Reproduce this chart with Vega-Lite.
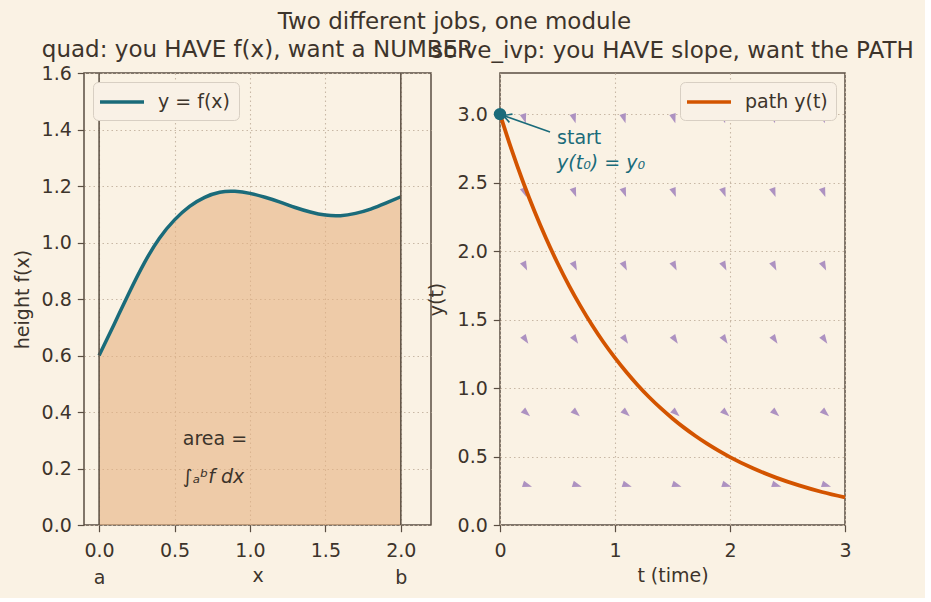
{
  "$schema": "https://vega.github.io/schema/vega-lite/v6.json",
  "background": "#FAF2E4",
  "padding": {"left": 12, "top": 11, "right": 10, "bottom": 10},
  "title": {
    "text": "Two different jobs, one module",
    "fontSize": 23,
    "anchor": "middle",
    "offset": 4,
    "dx": -9
  },
  "datasets": {
    "fx": [
      {"x": 0.0, "f": 0.600},
      {"x": 0.1, "f": 0.711},
      {"x": 0.2, "f": 0.823},
      {"x": 0.3, "f": 0.928},
      {"x": 0.4, "f": 1.015},
      {"x": 0.5, "f": 1.080},
      {"x": 0.6, "f": 1.128},
      {"x": 0.7, "f": 1.160},
      {"x": 0.8, "f": 1.178},
      {"x": 0.9, "f": 1.181},
      {"x": 1.0, "f": 1.174},
      {"x": 1.1, "f": 1.160},
      {"x": 1.2, "f": 1.143},
      {"x": 1.3, "f": 1.124},
      {"x": 1.4, "f": 1.108},
      {"x": 1.5, "f": 1.097},
      {"x": 1.6, "f": 1.095},
      {"x": 1.7, "f": 1.103},
      {"x": 1.8, "f": 1.118},
      {"x": 1.9, "f": 1.139},
      {"x": 2.0, "f": 1.162}
    ],
    "limits": [
      {"x": 0, "name": "a"},
      {"x": 2, "name": "b"}
    ],
    "areaNote": [
      {"x": 0.555, "f": 0.283, "label": "area =", "style": "normal"},
      {"x": 0.555, "f": 0.149, "label": "∫ₐᵇf dx", "style": "italic"}
    ],
    "path": [
      {"t": 0.0, "y": 3.000},
      {"t": 0.1, "y": 2.742},
      {"t": 0.2, "y": 2.506},
      {"t": 0.3, "y": 2.290},
      {"t": 0.4, "y": 2.093},
      {"t": 0.5, "y": 1.913},
      {"t": 0.6, "y": 1.748},
      {"t": 0.7, "y": 1.598},
      {"t": 0.8, "y": 1.460},
      {"t": 0.9, "y": 1.334},
      {"t": 1.0, "y": 1.220},
      {"t": 1.1, "y": 1.115},
      {"t": 1.2, "y": 1.019},
      {"t": 1.3, "y": 0.931},
      {"t": 1.4, "y": 0.851},
      {"t": 1.5, "y": 0.778},
      {"t": 1.6, "y": 0.711},
      {"t": 1.7, "y": 0.650},
      {"t": 1.8, "y": 0.594},
      {"t": 1.9, "y": 0.543},
      {"t": 2.0, "y": 0.496},
      {"t": 2.2, "y": 0.414},
      {"t": 2.4, "y": 0.346},
      {"t": 2.6, "y": 0.289},
      {"t": 2.8, "y": 0.241},
      {"t": 3.0, "y": 0.201}
    ],
    "slopes": [
      {"t": 0.2, "y": 0.3, "slope": -0.27, "dir": 17.8},
      {"t": 0.633, "y": 0.3, "slope": -0.27, "dir": 17.8},
      {"t": 1.067, "y": 0.3, "slope": -0.27, "dir": 17.8},
      {"t": 1.5, "y": 0.3, "slope": -0.27, "dir": 17.8},
      {"t": 1.933, "y": 0.3, "slope": -0.27, "dir": 17.8},
      {"t": 2.367, "y": 0.3, "slope": -0.27, "dir": 17.8},
      {"t": 2.8, "y": 0.3, "slope": -0.27, "dir": 17.8},
      {"t": 0.2, "y": 0.84, "slope": -0.756, "dir": 42.0},
      {"t": 0.633, "y": 0.84, "slope": -0.756, "dir": 42.0},
      {"t": 1.067, "y": 0.84, "slope": -0.756, "dir": 42.0},
      {"t": 1.5, "y": 0.84, "slope": -0.756, "dir": 42.0},
      {"t": 1.933, "y": 0.84, "slope": -0.756, "dir": 42.0},
      {"t": 2.367, "y": 0.84, "slope": -0.756, "dir": 42.0},
      {"t": 2.8, "y": 0.84, "slope": -0.756, "dir": 42.0},
      {"t": 0.2, "y": 1.38, "slope": -1.242, "dir": 55.9},
      {"t": 0.633, "y": 1.38, "slope": -1.242, "dir": 55.9},
      {"t": 1.067, "y": 1.38, "slope": -1.242, "dir": 55.9},
      {"t": 1.5, "y": 1.38, "slope": -1.242, "dir": 55.9},
      {"t": 1.933, "y": 1.38, "slope": -1.242, "dir": 55.9},
      {"t": 2.367, "y": 1.38, "slope": -1.242, "dir": 55.9},
      {"t": 2.8, "y": 1.38, "slope": -1.242, "dir": 55.9},
      {"t": 0.2, "y": 1.92, "slope": -1.728, "dir": 64.1},
      {"t": 0.633, "y": 1.92, "slope": -1.728, "dir": 64.1},
      {"t": 1.067, "y": 1.92, "slope": -1.728, "dir": 64.1},
      {"t": 1.5, "y": 1.92, "slope": -1.728, "dir": 64.1},
      {"t": 1.933, "y": 1.92, "slope": -1.728, "dir": 64.1},
      {"t": 2.367, "y": 1.92, "slope": -1.728, "dir": 64.1},
      {"t": 2.8, "y": 1.92, "slope": -1.728, "dir": 64.1},
      {"t": 0.2, "y": 2.46, "slope": -2.214, "dir": 69.2},
      {"t": 0.633, "y": 2.46, "slope": -2.214, "dir": 69.2},
      {"t": 1.067, "y": 2.46, "slope": -2.214, "dir": 69.2},
      {"t": 1.5, "y": 2.46, "slope": -2.214, "dir": 69.2},
      {"t": 1.933, "y": 2.46, "slope": -2.214, "dir": 69.2},
      {"t": 2.367, "y": 2.46, "slope": -2.214, "dir": 69.2},
      {"t": 2.8, "y": 2.46, "slope": -2.214, "dir": 69.2},
      {"t": 0.2, "y": 3.0, "slope": -2.7, "dir": 72.7},
      {"t": 0.633, "y": 3.0, "slope": -2.7, "dir": 72.7},
      {"t": 1.067, "y": 3.0, "slope": -2.7, "dir": 72.7},
      {"t": 1.5, "y": 3.0, "slope": -2.7, "dir": 72.7},
      {"t": 1.933, "y": 3.0, "slope": -2.7, "dir": 72.7},
      {"t": 2.367, "y": 3.0, "slope": -2.7, "dir": 72.7},
      {"t": 2.8, "y": 3.0, "slope": -2.7, "dir": 72.7}
    ],
    "start": [
      {"t": 0, "y": 3}
    ],
    "pointer": [
      {"t": 0.435, "y": 2.869, "t2": 0.03, "y2": 2.99, "dir": 20.6}
    ],
    "startNote": [
      {"t": 0.496, "y": 2.781, "label": "start", "style": "normal"},
      {"t": 0.496, "y": 2.599, "label": "y(t₀) = y₀", "style": "italic"}
    ]
  },
  "spacing": 69,
  "bounds": "flush",
  "hconcat": [
    {
      "width": 347,
      "height": 452,
      "title": {"text": "quad: you HAVE f(x), want a NUMBER", "offset": 2},
      "resolve": {"axis": {"x": "independent"}},
      "layer": [
        {
          "data": {"name": "fx"},
          "mark": {"type": "area", "color": "#E6B180", "opacity": 0.6, "interpolate": "natural"},
          "encoding": {
            "x": {
              "field": "x", "type": "quantitative",
              "scale": {"domain": [-0.1, 2.2], "nice": false, "zero": false},
              "axis": {"values": [0, 0.5, 1, 1.5, 2], "format": ".1f", "title": "x"}
            },
            "y": {
              "field": "f", "type": "quantitative",
              "scale": {"domain": [0, 1.6], "nice": false},
              "axis": {"values": [0, 0.2, 0.4, 0.6, 0.8, 1.0, 1.2, 1.4, 1.6], "format": ".1f", "title": "height f(x)"}
            }
          }
        },
        {
          "data": {"name": "fx"},
          "mark": {"type": "line", "strokeWidth": 3.5, "interpolate": "natural"},
          "encoding": {
            "x": {"field": "x", "type": "quantitative", "axis": null},
            "y": {"field": "f", "type": "quantitative"},
            "stroke": {
              "datum": "y = f(x)", "type": "nominal",
              "scale": {"domain": ["y = f(x)"], "range": ["#1A6B7A"]},
              "legend": {"orient": "top-left", "title": null}
            }
          }
        },
        {
          "data": {"name": "limits"},
          "mark": {"type": "rule", "color": "#5a4e42", "strokeWidth": 1.5},
          "encoding": {
            "x": {
              "field": "x", "type": "quantitative",
              "axis": {
                "orient": "bottom", "values": [0, 2],
                "labelExpr": "datum.value == 0 ? 'a' : 'b'",
                "ticks": false, "grid": false, "title": null,
                "labelPadding": 43
              }
            }
          }
        },
        {
          "data": {"name": "areaNote"},
          "transform": [{"filter": "datum.style == 'normal'"}],
          "mark": {"type": "text", "align": "left", "baseline": "alphabetic", "fontSize": 19, "color": "#3d342b"},
          "encoding": {
            "x": {"field": "x", "type": "quantitative", "axis": null},
            "y": {"field": "f", "type": "quantitative"},
            "text": {"field": "label"}
          }
        },
        {
          "data": {"name": "areaNote"},
          "transform": [{"filter": "datum.style == 'italic'"}],
          "mark": {"type": "text", "align": "left", "baseline": "alphabetic", "fontSize": 19, "fontStyle": "italic", "color": "#3d342b"},
          "encoding": {
            "x": {"field": "x", "type": "quantitative", "axis": null},
            "y": {"field": "f", "type": "quantitative"},
            "text": {"field": "label"}
          }
        }
      ]
    },
    {
      "width": 345,
      "height": 452,
      "title": {"text": "solve_ivp: you HAVE slope, want the PATH", "offset": 10},
      "layer": [
        {
          "data": {"name": "slopes"},
          "mark": {"type": "point", "shape": "M0,-0.7L2,0L0,0.7Z", "filled": true, "color": "#A98CBF", "size": 90, "opacity": 0.95},
          "encoding": {
            "x": {
              "field": "t", "type": "quantitative",
              "scale": {"domain": [0, 3], "nice": false},
              "axis": {"values": [0, 1, 2, 3], "format": "d", "title": "t (time)"}
            },
            "y": {
              "field": "y", "type": "quantitative",
              "scale": {"domain": [0, 3.3], "nice": false},
              "axis": {"values": [0, 0.5, 1, 1.5, 2, 2.5, 3], "format": ".1f", "title": "y(t)", "titlePadding": 11}
            },
            "angle": {"field": "dir", "type": "quantitative", "scale": null}
          }
        },
        {
          "data": {"name": "path"},
          "mark": {"type": "line", "strokeWidth": 3.8, "interpolate": "monotone"},
          "encoding": {
            "x": {"field": "t", "type": "quantitative"},
            "y": {"field": "y", "type": "quantitative"},
            "stroke": {
              "datum": "path y(t)", "type": "nominal",
              "scale": {"domain": ["path y(t)"], "range": ["#D35400"]},
              "legend": {"orient": "top-right", "title": null}
            }
          }
        },
        {
          "data": {"name": "pointer"},
          "mark": {"type": "rule", "color": "#1A6B7A", "strokeWidth": 1.6},
          "encoding": {
            "x": {"field": "t", "type": "quantitative"},
            "y": {"field": "y", "type": "quantitative"},
            "x2": {"field": "t2"},
            "y2": {"field": "y2"}
          }
        },
        {
          "data": {"name": "start"},
          "mark": {"type": "point", "shape": "circle", "filled": true, "color": "#1A6B7A", "size": 154, "opacity": 1, "clip": false},
          "encoding": {
            "x": {"field": "t", "type": "quantitative"},
            "y": {"field": "y", "type": "quantitative"}
          }
        },
        {
          "data": {"name": "pointer"},
          "mark": {"type": "point", "shape": "M2,-1.1L0,0L2,1.1", "filled": false, "color": "#1A6B7A", "strokeWidth": 1.6, "size": 64, "opacity": 1},
          "encoding": {
            "x": {"field": "t2", "type": "quantitative"},
            "y": {"field": "y2", "type": "quantitative"},
            "angle": {"field": "dir", "type": "quantitative", "scale": null}
          }
        },
        {
          "data": {"name": "startNote"},
          "transform": [{"filter": "datum.style == 'normal'"}],
          "mark": {"type": "text", "align": "left", "baseline": "alphabetic", "fontSize": 19, "color": "#1A6B7A"},
          "encoding": {
            "x": {"field": "t", "type": "quantitative"},
            "y": {"field": "y", "type": "quantitative"},
            "text": {"field": "label"}
          }
        },
        {
          "data": {"name": "startNote"},
          "transform": [{"filter": "datum.style == 'italic'"}],
          "mark": {"type": "text", "align": "left", "baseline": "alphabetic", "fontSize": 19, "fontStyle": "italic", "color": "#1A6B7A"},
          "encoding": {
            "x": {"field": "t", "type": "quantitative"},
            "y": {"field": "y", "type": "quantitative"},
            "text": {"field": "label"}
          }
        }
      ]
    }
  ],
  "resolve": {
    "scale": {"stroke": "independent"},
    "legend": {"stroke": "independent"}
  },
  "config": {
    "font": "DejaVu Sans",
    "view": {"stroke": "#5a4e42", "strokeWidth": 1.5},
    "axis": {
      "domain": false,
      "tickColor": "#5a4e42",
      "tickSize": 6.7,
      "tickWidth": 1.2,
      "labelFontSize": 19,
      "labelColor": "#3d342b",
      "labelPadding": 6,
      "labelFlush": false,
      "labelOverlap": false,
      "titleFontSize": 19,
      "titleFontWeight": "normal",
      "titleColor": "#3d342b",
      "gridColor": "#c8b8a5",
      "gridDash": [1.5, 3],
      "gridWidth": 1.1
    },
    "axisY": {"titlePadding": 9},
    "axisX": {"titlePadding": 6, "labelPadding": 10},
    "title": {
      "fontSize": 23,
      "fontWeight": "normal",
      "color": "#3d342b",
      "baseline": "alphabetic",
      "offset": 8
    },
    "legend": {
      "offset": 9,
      "padding": 8,
      "fillColor": "#F9F1E6",
      "strokeColor": "#d8cfc3",
      "cornerRadius": 5,
      "labelFontSize": 19,
      "labelColor": "#3d342b",
      "symbolType": "M-1.3,0L3.1,0",
      "symbolSize": 400,
      "symbolStrokeWidth": 3.5,
      "labelOffset": 33
    }
  }
}
